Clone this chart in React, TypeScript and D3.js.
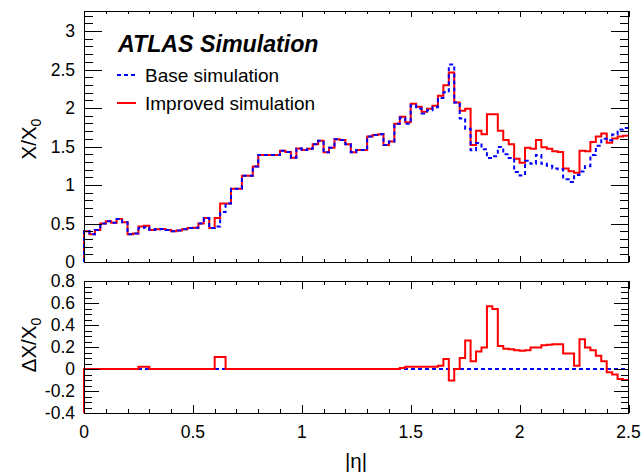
import React from "react";
import * as d3 from "d3";

// |eta| binning: 100 bins from 0 to 2.5
const ETA_RANGE = [0, 2.5];
const N_BINS = 100;

// X/X0 per bin, base simulation (blue dashed)
const baseValues = [
  0.40, 0.36, 0.415, 0.50, 0.53, 0.51, 0.56, 0.515, 0.36, 0.37,
  0.44, 0.45, 0.415, 0.425, 0.43, 0.415, 0.40, 0.41, 0.425, 0.44,
  0.445, 0.50, 0.57, 0.44, 0.46, 0.65, 0.76, 0.95, 0.95, 1.12,
  1.12, 1.24, 1.39, 1.39, 1.39, 1.39, 1.445, 1.43, 1.355, 1.475,
  1.455, 1.47, 1.53, 1.575, 1.425, 1.485, 1.595, 1.585, 1.53, 1.425,
  1.455, 1.455, 1.63, 1.65, 1.66, 1.52, 1.565, 1.795, 1.875, 1.795,
  2.035, 1.995, 1.93, 1.97, 2.01, 2.13, 2.205, 2.565, 2.07, 1.865,
  1.73, 1.45, 1.545, 1.465, 1.35, 1.375, 1.495, 1.40, 1.35, 1.17,
  1.125, 1.315, 1.275, 1.39, 1.275, 1.25, 1.215, 1.205, 1.075, 1.04,
  1.13, 1.175, 1.245, 1.39, 1.51, 1.60, 1.58, 1.655, 1.72, 1.74,
];

// X/X0 per bin, improved simulation (red solid)
const improvedValues = [
  0.40, 0.36, 0.415, 0.50, 0.53, 0.51, 0.56, 0.515, 0.36, 0.37,
  0.46, 0.47, 0.415, 0.425, 0.43, 0.415, 0.40, 0.41, 0.425, 0.44,
  0.445, 0.50, 0.57, 0.44, 0.57, 0.76, 0.76, 0.95, 0.95, 1.12,
  1.12, 1.24, 1.39, 1.39, 1.39, 1.39, 1.445, 1.43, 1.355, 1.475,
  1.455, 1.47, 1.53, 1.575, 1.425, 1.485, 1.595, 1.585, 1.53, 1.425,
  1.455, 1.455, 1.63, 1.65, 1.66, 1.52, 1.565, 1.795, 1.885, 1.815,
  2.055, 2.015, 1.95, 1.99, 2.03, 2.16, 2.295, 2.46, 2.07, 1.965,
  1.99, 1.52, 1.705, 1.66, 1.92, 1.92, 1.705, 1.585, 1.53, 1.34,
  1.29, 1.485, 1.47, 1.585, 1.49, 1.47, 1.44, 1.43, 1.215, 1.18,
  1.16, 1.445, 1.44, 1.56, 1.63, 1.67, 1.55, 1.605, 1.63, 1.64,
];

const xTickLabels = ["0", "0.5", "1", "1.5", "2", "2.5"];
const xTickValues = [0, 0.5, 1, 1.5, 2, 2.5];
const topYTicks = [0, 0.5, 1, 1.5, 2, 2.5, 3];
const topYTickLabels = ["0", "0.5", "1", "1.5", "2", "2.5", "3"];
const botYTicks = [-0.4, -0.2, 0, 0.2, 0.4, 0.6, 0.8];
const botYTickLabels = ["-0.4", "-0.2", "0", "0.2", "0.4", "0.6", "0.8"];

const legendLabels = ["Base simulation", "Improved simulation"];
const BLUE = "#0000ff";
const RED = "#ff0000";
const FONT = "'Liberation Sans', Arial, Helvetica, sans-serif";

const W = 644;
const H = 475;
const X0 = 84;
const X1 = 628.5;
const TOP_Y0 = 262;
const TOP_Y1 = 11;
const BOT_Y0 = 413;
const BOT_Y1 = 281;

type Pt = { x: number; y: number };

function histPoints(values: number[], ymin: number, binW: number): Pt[] {
  const pts: Pt[] = [{ x: ETA_RANGE[0], y: ymin }];
  values.forEach((v, i) => pts.push({ x: ETA_RANGE[0] + i * binW, y: v }));
  pts.push({ x: ETA_RANGE[1], y: values[values.length - 1] });
  return pts;
}

function Ticks({
  x,
  yScale,
  yMajor,
  yMinorStep,
  yMajorLen,
  xMajorLen,
}: {
  x: d3.ScaleLinear<number, number>;
  yScale: d3.ScaleLinear<number, number>;
  yMajor: number[];
  yMinorStep: number;
  yMajorLen: number;
  xMajorLen: number;
}) {
  const [yd0, yd1] = yScale.domain();
  const yMinor = d3
    .range(Math.ceil(yd0 / yMinorStep - 1e-6), Math.floor(yd1 / yMinorStep + 1e-6) + 1)
    .map((k) => k * yMinorStep);
  const xMinor = d3.range(0, 26).map((k) => k * 0.1);
  const isMajor = (v: number, step: number) => Math.abs(v / step - Math.round(v / step)) < 1e-6;
  const [ry0, ry1] = yScale.range();
  const [rx0, rx1] = x.range();
  const lines: JSX.Element[] = [];
  yMinor.forEach((v, i) => {
    const major = yMajor.some((m) => Math.abs(m - v) < 1e-6);
    const len = major ? yMajorLen : yMajorLen / 2;
    const yy = Math.round(yScale(v)) + 0.5;
    lines.push(<line key={"yl" + i} x1={rx0} x2={rx0 + len} y1={yy} y2={yy} />);
    lines.push(<line key={"yr" + i} x1={rx1} x2={rx1 - len} y1={yy} y2={yy} />);
  });
  xMinor.forEach((v, i) => {
    const major = isMajor(v, 0.5);
    const len = major ? xMajorLen : xMajorLen / 2;
    const xx = Math.round(x(v)) + 0.5;
    lines.push(<line key={"xb" + i} x1={xx} x2={xx} y1={ry0} y2={ry0 - len} />);
    lines.push(<line key={"xt" + i} x1={xx} x2={xx} y1={ry1} y2={ry1 + len} />);
  });
  return (
    <g stroke="#000" strokeWidth={1} shapeRendering="crispEdges">
      {lines}
    </g>
  );
}

export default function App() {
  const binW = (ETA_RANGE[1] - ETA_RANGE[0]) / N_BINS;
  const x = d3.scaleLinear().domain(ETA_RANGE).range([X0, X1]);
  const yTop = d3.scaleLinear().domain([0, 3.26]).range([TOP_Y0, TOP_Y1]);
  const yBot = d3.scaleLinear().domain([-0.4, 0.8]).range([BOT_Y0, BOT_Y1]);

  const lineTop = d3
    .line<Pt>()
    .x((d) => x(d.x))
    .y((d) => yTop(d.y))
    .curve(d3.curveStepAfter);
  const lineBot = d3
    .line<Pt>()
    .x((d) => x(d.x))
    .y((d) => yBot(d.y))
    .curve(d3.curveStepAfter);

  const deltaBase = baseValues.map((b) => b - b);
  const deltaImp = improvedValues.map((v, i) => v - baseValues[i]);

  const dash = "4,3";
  const tickFont = 17.5;

  return (
    <svg
      width={W}
      height={H}
      style={{ position: "absolute", left: 0, top: 0, background: "#fff" }}
      fontFamily={FONT}
    >
      <rect x={0} y={0} width={W} height={H} fill="#fff" />

      {/* top panel */}
      <path
        d={lineTop(histPoints(improvedValues, 0, binW)) || ""}
        fill="none"
        stroke={RED}
        strokeWidth={2}
      />
      <path
        d={lineTop(histPoints(baseValues, 0, binW)) || ""}
        fill="none"
        stroke={BLUE}
        strokeWidth={2}
        strokeDasharray={dash}
      />
      <rect
        x={X0}
        y={TOP_Y1}
        width={X1 - X0}
        height={TOP_Y0 - TOP_Y1}
        fill="none"
        stroke="#000"
        strokeWidth={1}
        shapeRendering="crispEdges"
      />
      <Ticks x={x} yScale={yTop} yMajor={topYTicks} yMinorStep={0.1} yMajorLen={18} xMajorLen={6} />
      {topYTicks.map((v, i) => (
        <text key={"tyl" + i} x={75} y={yTop(v)} dy="0.36em" textAnchor="end" fontSize={tickFont}>
          {topYTickLabels[i]}
        </text>
      ))}
      <text transform={`translate(36,139) rotate(-90)`} textAnchor="middle" fontSize={20.5}>
        X/X
        <tspan fontSize={14} dy={5}>
          0
        </tspan>
      </text>

      {/* legend */}
      <text x={118} y={52} fontSize={23.2} fontWeight="bold" fontStyle="italic">
        ATLAS Simulation
      </text>
      <line x1={117} x2={136} y1={75} y2={75} stroke={BLUE} strokeWidth={2} strokeDasharray={dash} />
      <text x={145} y={82} fontSize={19}>
        {legendLabels[0]}
      </text>
      <line x1={117} x2={136} y1={103} y2={103} stroke={RED} strokeWidth={2} />
      <text x={145} y={110} fontSize={19}>
        {legendLabels[1]}
      </text>

      {/* bottom panel */}
      <path
        d={lineBot(histPoints(deltaBase, -0.4, binW)) || ""}
        fill="none"
        stroke={BLUE}
        strokeWidth={2}
        strokeDasharray={dash}
      />
      <path
        d={lineBot(histPoints(deltaImp, -0.4, binW)) || ""}
        fill="none"
        stroke={RED}
        strokeWidth={2}
      />
      <rect
        x={X0}
        y={BOT_Y1}
        width={X1 - X0}
        height={BOT_Y0 - BOT_Y1}
        fill="none"
        stroke="#000"
        strokeWidth={1}
        shapeRendering="crispEdges"
      />
      <Ticks x={x} yScale={yBot} yMajor={botYTicks} yMinorStep={0.05} yMajorLen={15} xMajorLen={8} />
      {botYTicks.map((v, i) => (
        <text key={"byl" + i} x={75} y={yBot(v)} dy="0.36em" textAnchor="end" fontSize={tickFont}>
          {botYTickLabels[i]}
        </text>
      ))}
      {xTickValues.map((v, i) => (
        <text key={"xl" + i} x={x(v)} y={438} textAnchor="middle" fontSize={tickFont}>
          {xTickLabels[i]}
        </text>
      ))}
      <text transform={`translate(36,345) rotate(-90)`} textAnchor="middle" fontSize={20.5}>
        ΔX/X
        <tspan fontSize={14} dy={5}>
          0
        </tspan>
      </text>
      <text x={356} y={468} textAnchor="middle" fontSize={20.5}>
        |η|
      </text>
    </svg>
  );
}
